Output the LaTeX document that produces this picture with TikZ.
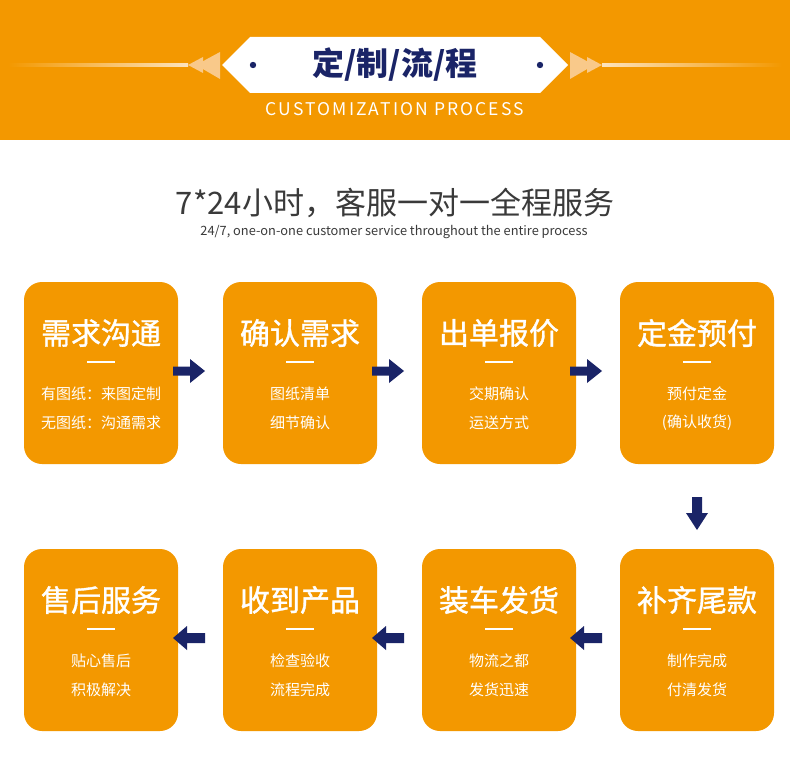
\documentclass[tikz,border=0pt]{standalone}
\usepackage{fontspec}
\setmainfont{Noto Sans CJK SC}
\newfontfamily\cjk{Noto Sans CJK SC}
\newfontfamily\cjkmed[FakeBold=1.2]{Noto Sans CJK SC}
\usetikzlibrary{calc}
\definecolor{org}{HTML}{F39800}
\definecolor{navy}{HTML}{1A2467}
\definecolor{peach}{HTML}{F9C98A}
\definecolor{lite}{HTML}{FCE3BE}
\definecolor{txtgray}{HTML}{3A3A3A}
\tikzset{
  box/.style={fill=org, draw=none, rounded corners=18pt, minimum width=154pt, minimum height=182pt, inner sep=0pt},
  ttl/.style={text=white, font=\cjkmed\fontsize{30}{33}\selectfont, inner sep=0pt},
  sub/.style={text=white, font=\cjk\fontsize{15}{17}\selectfont, inner sep=0pt},
  bar/.style={white, line width=2pt},
  arw/.style={fill=navy, draw=none},
}
\newcommand{\rarrow}[2]{\fill[arw] (#1,#2-4.5) -- (#1+17,#2-4.5) -- (#1+17,#2-12) -- (#1+32,#2) -- (#1+17,#2+12) -- (#1+17,#2+4.5) -- (#1,#2+4.5) -- cycle;}
\newcommand{\larrow}[2]{\fill[arw] (#1,#2) -- (#1+14,#2-12) -- (#1+14,#2-5) -- (#1+32,#2-5) -- (#1+32,#2+5) -- (#1+14,#2+5) -- (#1+14,#2+12) -- cycle;}
\begin{document}
\begin{tikzpicture}[x=1pt,y=-1pt]
\useasboundingbox (0,0) rectangle (790,781);
\fill[white] (0,0) rectangle (790,781);
% header band
\fill[org] (0,0) rectangle (790,140);
% lines
\fill[left color=org, right color=lite] (8,64) rectangle (188,66.5);
\fill[left color=lite, right color=org] (602,64) rectangle (782,66.5);
% triangles
\fill[peach] (220,52) -- (196,65) -- (220,79) -- cycle;
\fill[peach] (203,57) -- (188,65) -- (203,73) -- cycle;
\fill[peach] (570,52) -- (594,65) -- (570,79) -- cycle;
\fill[peach] (587,57) -- (602,65) -- (587,73) -- cycle;
% hexagon banner
\fill[white] (222,65) -- (250,37) -- (540,37) -- (568,65) -- (540,93) -- (250,93) -- cycle;
\fill[navy] (253,65) circle (3.2);
\fill[navy] (540,65) circle (3.2);
\node[text=navy, font=\cjk\fontsize{32}{35}\selectfont\bfseries, inner sep=0pt] (title) at (395,65) {定/制/流/程};
\node[text=white, font=\cjk\fontsize{17.5}{20}\selectfont\addfontfeatures{LetterSpace=12}, inner sep=0pt] (entitle) at (395,109) {CUSTOMIZATION PROCESS};
% headings
\node[text=txtgray, font=\cjk\fontsize{31}{34}\selectfont, inner sep=0pt] (head) at (395,203) {7*24小时，客服一对一全程服务};
\node[text=txtgray, font=\cjk\fontsize{12.8}{15}\selectfont, inner sep=0pt] (subhead) at (394,232) {24/7, one-on-one customer service throughout the entire process};
% boxes
\foreach \n/\x/\y/\t/\a/\b in {
  1/101/373/需求沟通/有图纸：来图定制/无图纸：沟通需求,
  2/300/373/确认需求/图纸清单/细节确认,
  3/499/373/出单报价/交期确认/运送方式,
  4/697/373/定金预付/预付定金/(确认收货),
  5/101/640/售后服务/贴心售后/积极解决,
  6/300/640/收到产品/检查验收/流程完成,
  7/499/640/装车发货/物流之都/发货迅速,
  8/697/640/补齐尾款/制作完成/付清发货}{
  \node[box] (b\n) at (\x,\y) {};
  \node[ttl] (t\n) at (\x,\y-40) {\t};
  \draw[bar] (\x-14,\y-11) -- (\x+14,\y-11);
  \node[sub] (s\n) at (\x,\y+21) {\a};
  \node[sub] (u\n) at (\x,\y+50) {\b};
}
% arrows
\rarrow{173}{371}
\rarrow{372}{371}
\rarrow{570}{371}
\fill[arw] (692,497) -- (702,497) -- (702,513) -- (708,513) -- (697,530) -- (686,513) -- (692,513) -- cycle;
\larrow{173}{638}
\larrow{372}{638}
\larrow{570}{638}
\end{tikzpicture}
\end{document}
